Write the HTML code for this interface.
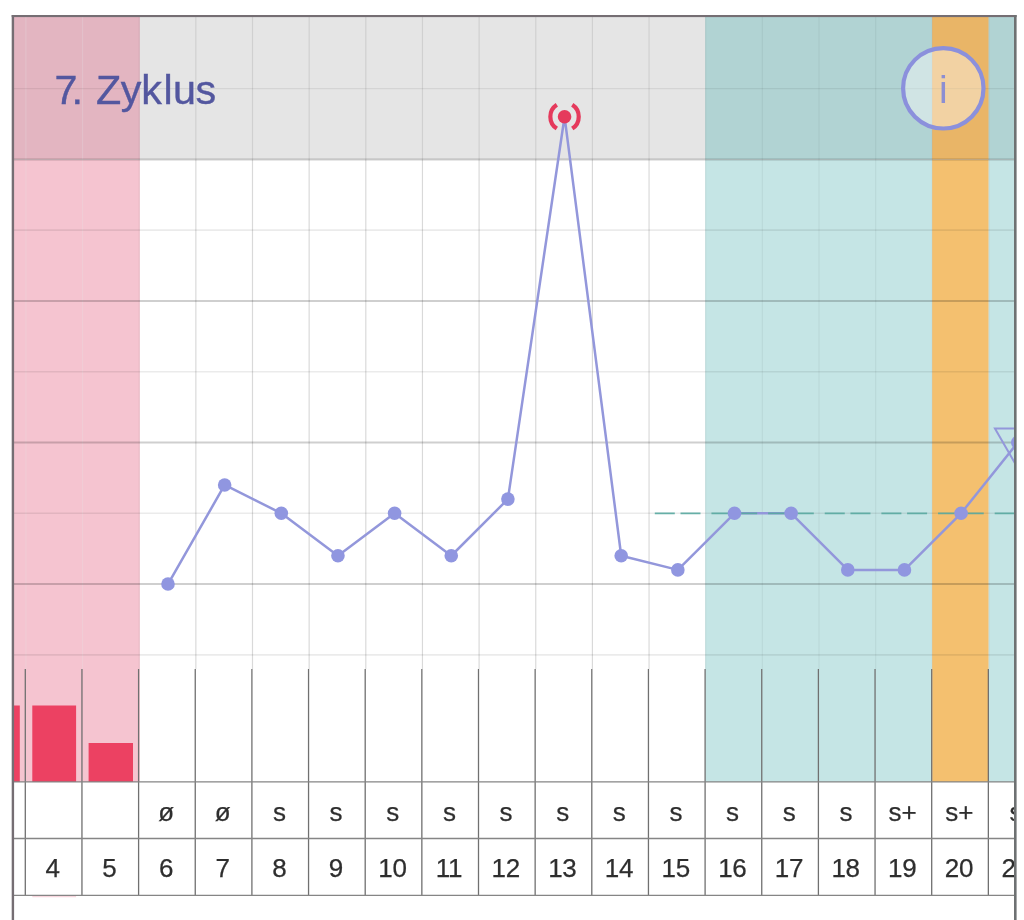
<!DOCTYPE html>
<html lang="de">
<head>
<meta charset="utf-8">
<title>7. Zyklus</title>
<style>
html,body{margin:0;padding:0;background:#fff;}
body{width:1024px;height:920px;overflow:hidden;position:relative;font-family:"Liberation Sans",sans-serif;}
svg{position:absolute;left:0;top:0;display:block;}
text{font-family:"Liberation Sans",sans-serif;}
</style>
</head>
<body>
<svg width="1024" height="920" viewBox="0 0 1024 920">
<defs>
<clipPath id="plot"><rect x="13" y="16" width="1002" height="904"/></clipPath>
</defs>
<rect x="0" y="0" width="1024" height="920" fill="#ffffff"/>

<g clip-path="url(#plot)">
<rect x="13" y="159.4" width="126.80000000000001" height="622.6" fill="#f5c4d0"/>
<rect x="705.2" y="159.4" width="227.0" height="622.6" fill="#c5e5e5"/>
<rect x="932.2" y="159.4" width="56.5" height="622.6" fill="#f4c06f"/>
<rect x="988.7" y="159.4" width="30" height="622.6" fill="#c5e5e5"/>
<rect x="13" y="16" width="1002" height="143.4" fill="#e5e5e5"/>
<rect x="13" y="16" width="126.80000000000001" height="143.4" fill="#e3b5c1"/>
<rect x="705.2" y="16" width="227.0" height="143.4" fill="#b1d3d3"/>
<rect x="932.2" y="16" width="56.5" height="143.4" fill="#e9b567"/>
<rect x="988.7" y="16" width="30" height="143.4" fill="#b1d3d3"/>
<line x1="25.90" y1="16" x2="25.90" y2="669" stroke="#e6e6e6" stroke-opacity="0.24" stroke-width="1.2"/>
<line x1="82.55" y1="16" x2="82.55" y2="669" stroke="#e6e6e6" stroke-opacity="0.24" stroke-width="1.2"/>
<line x1="139.20" y1="16" x2="139.20" y2="669" stroke="#000" stroke-opacity="0.05" stroke-width="1.2"/>
<line x1="195.85" y1="16" x2="195.85" y2="159.4" stroke="#000" stroke-opacity="0.09" stroke-width="1.2"/>
<line x1="195.85" y1="159.4" x2="195.85" y2="669" stroke="#000" stroke-opacity="0.15" stroke-width="1.2"/>
<line x1="252.50" y1="16" x2="252.50" y2="159.4" stroke="#000" stroke-opacity="0.09" stroke-width="1.2"/>
<line x1="252.50" y1="159.4" x2="252.50" y2="669" stroke="#000" stroke-opacity="0.15" stroke-width="1.2"/>
<line x1="309.15" y1="16" x2="309.15" y2="159.4" stroke="#000" stroke-opacity="0.09" stroke-width="1.2"/>
<line x1="309.15" y1="159.4" x2="309.15" y2="669" stroke="#000" stroke-opacity="0.15" stroke-width="1.2"/>
<line x1="365.80" y1="16" x2="365.80" y2="159.4" stroke="#000" stroke-opacity="0.09" stroke-width="1.2"/>
<line x1="365.80" y1="159.4" x2="365.80" y2="669" stroke="#000" stroke-opacity="0.15" stroke-width="1.2"/>
<line x1="422.45" y1="16" x2="422.45" y2="159.4" stroke="#000" stroke-opacity="0.09" stroke-width="1.2"/>
<line x1="422.45" y1="159.4" x2="422.45" y2="669" stroke="#000" stroke-opacity="0.15" stroke-width="1.2"/>
<line x1="479.10" y1="16" x2="479.10" y2="159.4" stroke="#000" stroke-opacity="0.09" stroke-width="1.2"/>
<line x1="479.10" y1="159.4" x2="479.10" y2="669" stroke="#000" stroke-opacity="0.15" stroke-width="1.2"/>
<line x1="535.75" y1="16" x2="535.75" y2="159.4" stroke="#000" stroke-opacity="0.09" stroke-width="1.2"/>
<line x1="535.75" y1="159.4" x2="535.75" y2="669" stroke="#000" stroke-opacity="0.15" stroke-width="1.2"/>
<line x1="592.40" y1="16" x2="592.40" y2="159.4" stroke="#000" stroke-opacity="0.09" stroke-width="1.2"/>
<line x1="592.40" y1="159.4" x2="592.40" y2="669" stroke="#000" stroke-opacity="0.15" stroke-width="1.2"/>
<line x1="649.05" y1="16" x2="649.05" y2="159.4" stroke="#000" stroke-opacity="0.09" stroke-width="1.2"/>
<line x1="649.05" y1="159.4" x2="649.05" y2="669" stroke="#000" stroke-opacity="0.15" stroke-width="1.2"/>
<line x1="705.70" y1="16" x2="705.70" y2="669" stroke="#000" stroke-opacity="0.05" stroke-width="1.2"/>
<line x1="762.35" y1="16" x2="762.35" y2="669" stroke="#000" stroke-opacity="0.05" stroke-width="1.2"/>
<line x1="819.00" y1="16" x2="819.00" y2="669" stroke="#000" stroke-opacity="0.05" stroke-width="1.2"/>
<line x1="875.65" y1="16" x2="875.65" y2="669" stroke="#000" stroke-opacity="0.05" stroke-width="1.2"/>
<line x1="932.30" y1="16" x2="932.30" y2="669" stroke="#000" stroke-opacity="0.05" stroke-width="1.2"/>
<line x1="988.95" y1="16" x2="988.95" y2="669" stroke="#000" stroke-opacity="0.05" stroke-width="1.2"/>
<line x1="13" y1="88.60" x2="1015" y2="88.60" stroke="#000" stroke-opacity="0.07" stroke-width="1.3"/>
<line x1="13" y1="159.38" x2="1015" y2="159.38" stroke="#000" stroke-opacity="0.19" stroke-width="2"/>
<line x1="13" y1="230.16" x2="1015" y2="230.16" stroke="#000" stroke-opacity="0.08" stroke-width="1.6"/>
<line x1="13" y1="300.94" x2="1015" y2="300.94" stroke="#000" stroke-opacity="0.19" stroke-width="2"/>
<line x1="13" y1="371.72" x2="1015" y2="371.72" stroke="#000" stroke-opacity="0.08" stroke-width="1.6"/>
<line x1="13" y1="442.50" x2="1015" y2="442.50" stroke="#000" stroke-opacity="0.19" stroke-width="2"/>
<line x1="13" y1="513.28" x2="1015" y2="513.28" stroke="#000" stroke-opacity="0.08" stroke-width="1.6"/>
<line x1="13" y1="584.06" x2="1015" y2="584.06" stroke="#000" stroke-opacity="0.19" stroke-width="2"/>
<line x1="13" y1="654.84" x2="1015" y2="654.84" stroke="#000" stroke-opacity="0.08" stroke-width="1.6"/>
<rect x="13" y="705.5" width="6.8" height="76.5" fill="#ec4162"/>
<rect x="32.3" y="705.5" width="43.8" height="76.5" fill="#ec4162"/>
<rect x="88.6" y="743" width="44.4" height="39" fill="#ec4162"/>
<rect x="13" y="782" width="1002" height="113.3" fill="#ffffff"/>
<line x1="25.30" y1="669" x2="25.30" y2="895.3" stroke="#707070" stroke-width="1.3"/>
<line x1="81.95" y1="669" x2="81.95" y2="895.3" stroke="#707070" stroke-width="1.3"/>
<line x1="138.60" y1="669" x2="138.60" y2="895.3" stroke="#707070" stroke-width="1.3"/>
<line x1="195.25" y1="669" x2="195.25" y2="895.3" stroke="#707070" stroke-width="1.3"/>
<line x1="251.90" y1="669" x2="251.90" y2="895.3" stroke="#707070" stroke-width="1.3"/>
<line x1="308.55" y1="669" x2="308.55" y2="895.3" stroke="#707070" stroke-width="1.3"/>
<line x1="365.20" y1="669" x2="365.20" y2="895.3" stroke="#707070" stroke-width="1.3"/>
<line x1="421.85" y1="669" x2="421.85" y2="895.3" stroke="#707070" stroke-width="1.3"/>
<line x1="478.50" y1="669" x2="478.50" y2="895.3" stroke="#707070" stroke-width="1.3"/>
<line x1="535.15" y1="669" x2="535.15" y2="895.3" stroke="#707070" stroke-width="1.3"/>
<line x1="591.80" y1="669" x2="591.80" y2="895.3" stroke="#707070" stroke-width="1.3"/>
<line x1="648.45" y1="669" x2="648.45" y2="895.3" stroke="#707070" stroke-width="1.3"/>
<line x1="705.10" y1="669" x2="705.10" y2="895.3" stroke="#707070" stroke-width="1.3"/>
<line x1="761.75" y1="669" x2="761.75" y2="895.3" stroke="#707070" stroke-width="1.3"/>
<line x1="818.40" y1="669" x2="818.40" y2="895.3" stroke="#707070" stroke-width="1.3"/>
<line x1="875.05" y1="669" x2="875.05" y2="895.3" stroke="#707070" stroke-width="1.3"/>
<line x1="931.70" y1="669" x2="931.70" y2="895.3" stroke="#707070" stroke-width="1.3"/>
<line x1="988.35" y1="669" x2="988.35" y2="895.3" stroke="#707070" stroke-width="1.3"/>
<line x1="13" y1="781.9" x2="1015" y2="781.9" stroke="#858585" stroke-width="1.3"/>
<line x1="13" y1="838.5" x2="1015" y2="838.5" stroke="#858585" stroke-width="1.3"/>
<line x1="13" y1="895.3" x2="1015" y2="895.3" stroke="#858585" stroke-width="1.3"/>
<line x1="32.3" y1="896.7" x2="76.1" y2="896.7" stroke="#f3b8c6" stroke-opacity="0.7" stroke-width="1"/>
<path d="M168.00 584.06 L224.65 484.97 L281.30 513.28 L337.95 555.75 L394.60 513.28 L451.25 555.75 L507.90 499.12 L564.55 116.70 L621.20 555.75 L677.85 569.90 L734.50 513.28 L791.15 513.28 L847.80 569.90 L904.45 569.90 L961.10 513.28 L1017.75 442.50" fill="none" stroke="#9397db" stroke-width="2.5" stroke-linejoin="round"/>
<path d="M994.95 428.40 L1040.55 428.40 L1017.75 467.89 Z" fill="none" stroke="#9397db" stroke-width="2"/>
<line x1="654.8" y1="513.28" x2="1016" y2="513.28" stroke="#58a9a0" stroke-opacity="0.9" stroke-width="1.8" stroke-dasharray="20 5.7 20 10.95"/>
<circle cx="168.00" cy="584.06" r="6.8" fill="#9096e0"/>
<circle cx="224.65" cy="484.97" r="6.8" fill="#9096e0"/>
<circle cx="281.30" cy="513.28" r="6.8" fill="#9096e0"/>
<circle cx="337.95" cy="555.75" r="6.8" fill="#9096e0"/>
<circle cx="394.60" cy="513.28" r="6.8" fill="#9096e0"/>
<circle cx="451.25" cy="555.75" r="6.8" fill="#9096e0"/>
<circle cx="507.90" cy="499.12" r="6.8" fill="#9096e0"/>
<circle cx="621.20" cy="555.75" r="6.8" fill="#9096e0"/>
<circle cx="677.85" cy="569.90" r="6.8" fill="#9096e0"/>
<circle cx="734.50" cy="513.28" r="6.8" fill="#9096e0"/>
<circle cx="791.15" cy="513.28" r="6.8" fill="#9096e0"/>
<circle cx="847.80" cy="569.90" r="6.8" fill="#9096e0"/>
<circle cx="904.45" cy="569.90" r="6.8" fill="#9096e0"/>
<circle cx="961.10" cy="513.28" r="6.8" fill="#9096e0"/>
<circle cx="1017.75" cy="442.50" r="6.8" fill="#9096e0"/>
<circle cx="564.55" cy="116.7" r="6.8" fill="#e53a5c"/>
<path d="M556.82 104.79 A14.2 14.2 0 0 0 556.82 128.61" fill="none" stroke="#e53a5c" stroke-width="4.2"/>
<path d="M572.28 104.79 A14.2 14.2 0 0 1 572.28 128.61" fill="none" stroke="#e53a5c" stroke-width="4.2"/>
<circle cx="943.3" cy="88.3" r="40.2" fill="#ffffff" fill-opacity="0.40" stroke="#8b90dc" stroke-width="4.2"/>
</g>
<text x="943.3" y="102.6" text-anchor="middle" font-size="39" fill="#8c8ed2">i</text>
<text x="54.6 71.5 83 95.9 120.8 141.3 163.5 172.9 195.4" y="103.7" font-size="41.3" fill="#53579f" stroke="#53579f" stroke-width="0.4">7. Zyklus</text>
<g clip-path="url(#plot)" font-size="26" fill="#2e2e2e" stroke="#2e2e2e" stroke-width="0.25" text-anchor="middle">
<text x="52.83" y="877.4">4</text>
<text x="109.48" y="877.4">5</text>
<text x="166.12" y="820.6">ø</text>
<text x="166.12" y="877.4">6</text>
<text x="222.77" y="820.6">ø</text>
<text x="222.77" y="877.4">7</text>
<text x="279.43" y="820.6">s</text>
<text x="279.43" y="877.4">8</text>
<text x="336.07" y="820.6">s</text>
<text x="336.07" y="877.4">9</text>
<text x="392.72" y="820.6">s</text>
<text x="392.42" y="877.4" letter-spacing="-0.3">10</text>
<text x="449.38" y="820.6">s</text>
<text x="449.07" y="877.4" letter-spacing="-0.3">11</text>
<text x="506.02" y="820.6">s</text>
<text x="505.72" y="877.4" letter-spacing="-0.3">12</text>
<text x="562.68" y="820.6">s</text>
<text x="562.38" y="877.4" letter-spacing="-0.3">13</text>
<text x="619.33" y="820.6">s</text>
<text x="619.03" y="877.4" letter-spacing="-0.3">14</text>
<text x="675.98" y="820.6">s</text>
<text x="675.68" y="877.4" letter-spacing="-0.3">15</text>
<text x="732.62" y="820.6">s</text>
<text x="732.33" y="877.4" letter-spacing="-0.3">16</text>
<text x="789.27" y="820.6">s</text>
<text x="788.98" y="877.4" letter-spacing="-0.3">17</text>
<text x="845.93" y="820.6">s</text>
<text x="845.63" y="877.4" letter-spacing="-0.3">18</text>
<text x="902.58" y="820.6">s+</text>
<text x="902.28" y="877.4" letter-spacing="-0.3">19</text>
<text x="959.23" y="820.6">s+</text>
<text x="958.93" y="877.4" letter-spacing="-0.3">20</text>
<text x="1015.88" y="820.6">s</text>
<text x="1015.58" y="877.4" letter-spacing="-0.3">21</text>
</g>
<rect x="11.7" y="15" width="2.4" height="905" fill="#756e73"/>
<rect x="11.7" y="15" width="1004.9" height="2.1" fill="#756e73"/>
<rect x="1014" y="15" width="2.6" height="905" fill="#6e7172"/>
</svg>
</body>
</html>
